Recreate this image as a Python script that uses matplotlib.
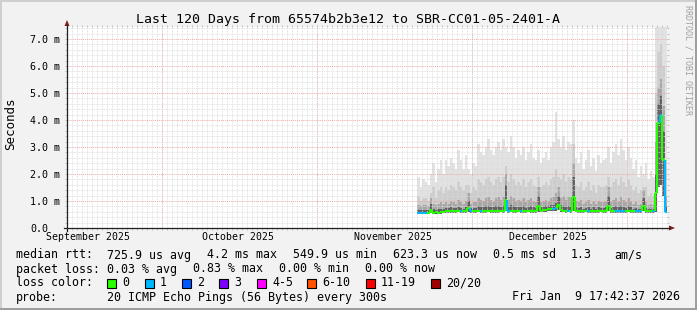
import numpy as np
import matplotlib
matplotlib.use("Agg")
import matplotlib.pyplot as plt
from matplotlib.patches import Rectangle, Polygon
from matplotlib.lines import Line2D
from matplotlib.ticker import MultipleLocator

W, H = 697, 310

TITLE = "Last 120 Days from 65574b2b3e12 to SBR-CC01-05-2401-A"
Y_LABEL = "Seconds"

# x axis runs in days since the start of the 120 day window
month_label_days = [4.2, 34.2, 65.2, 96.2]
month_labels = ["September 2025", "October 2025", "November 2025", "December 2025"]
month_start_days = [19.0, 50.0, 81.0, 112.0]

y_ticks = [0, 1, 2, 3, 4, 5, 6, 7]
y_tick_labels = ["0.0", "1.0 m", "2.0 m", "3.0 m", "4.0 m", "5.0 m", "6.0 m", "7.0 m"]

# half-day samples, first one starts at day 70
first_day = 70.0
step_days = 0.5

# median rtt (ms)
median = [
    0.56, 0.56, 0.57, 0.56, 0.57, 0.67, 0.57, 0.58, 0.57, 0.58, 0.60,
    0.62, 0.63, 0.63, 0.62, 0.63, 0.64, 0.63, 0.62, 0.63,
    0.75, 0.63, 0.62, 0.63,
    0.64, 0.63, 0.62, 0.63, 0.64, 0.63, 0.62, 0.63,
    0.63, 0.64, 0.63, 1.04,
    0.63, 0.64, 0.62, 0.63, 0.64, 0.63,
    0.62, 0.63, 0.64, 0.63, 0.62, 0.63, 0.80, 0.64,
    0.66, 0.68, 0.70, 0.72,
    0.70, 0.74, 0.85, 0.68, 0.64, 0.63, 0.64, 0.63,
    1.15,
    0.64, 0.63, 0.62, 0.63, 0.64, 0.63, 0.62, 0.63, 0.62, 0.63, 0.64, 0.63,
    0.62, 0.80, 0.63, 0.62, 0.63, 0.62, 0.63, 0.62, 0.63, 0.64, 0.63,
    0.62, 0.63, 0.62, 0.63, 0.80, 0.63, 0.62, 0.63, 0.62,
    1.30, 3.90, 4.20, 2.50, 0.60,
]

# smoke: max ping, ~90th, ~75th, ~60th percentile and min ping (ms)
smoke_top = [
    1.9, 1.5, 1.8, 1.7, 1.6, 2.0, 2.4, 1.7, 2.2, 2.5, 2.0,
    2.5, 2.3, 2.6, 2.4, 2.2, 2.9, 2.5, 2.2, 2.7,
    2.2, 2.0, 2.4, 2.3,
    3.1, 2.8, 2.7, 3.0, 3.3, 2.9, 2.7, 3.0,
    3.2, 2.9, 3.3, 3.0,
    2.8, 3.4, 3.0, 2.6, 2.9, 2.7,
    3.0, 2.5, 2.8, 3.1, 2.6, 2.5, 2.9, 2.4,
    2.6, 2.8, 2.5, 3.0,
    3.2, 4.3, 3.3, 3.0, 3.4, 2.9, 3.2, 3.1,
    4.0,
    2.6, 2.4, 2.8, 2.2, 2.5, 2.9, 2.3, 2.6, 2.1, 2.7, 2.4, 2.5,
    2.6, 3.0, 2.4, 2.8, 3.1, 2.7, 3.3, 2.9, 2.5, 3.0, 2.6,
    2.2, 2.5, 1.9, 2.3, 2.0, 2.4, 1.8, 2.1, 1.9,
    7.5, 7.5, 7.5, 7.5, 7.5,
]
smoke_p90 = [
    1.2, 1.0, 1.1, 1.1, 1.0, 1.3, 1.5, 1.1, 1.4, 1.5, 1.3,
    1.5, 1.4, 1.6, 1.5, 1.4, 1.7, 1.5, 1.4, 1.6,
    1.6, 1.3, 1.5, 1.4,
    1.8, 1.7, 1.6, 1.8, 1.9, 1.7, 1.6, 1.8,
    1.9, 1.7, 1.9, 2.3,
    1.7, 2.0, 1.8, 1.6, 1.7, 1.6,
    1.8, 1.5, 1.7, 1.8, 1.6, 1.5, 1.9, 1.5,
    1.6, 1.7, 1.6, 1.8,
    1.9, 2.2, 1.9, 1.8, 2.0, 1.7, 1.9, 1.8,
    3.1,
    1.6, 1.5, 1.7, 1.4, 1.5, 1.7, 1.4, 1.6, 1.3, 1.6, 1.5, 1.5,
    1.6, 1.9, 1.5, 1.7, 1.8, 1.6, 1.9, 1.7, 1.5, 1.8, 1.6,
    1.4, 1.5, 1.3, 1.4, 1.5, 1.5, 1.2, 1.3, 1.2,
    5.0, 6.5, 6.8, 6.0, 2.5,
]
smoke_p75 = [
    0.85, 0.80, 0.85, 0.85, 0.80, 1.10, 0.90, 0.85, 0.90, 0.95, 0.90,
    0.95, 0.90, 1.00, 0.95, 0.90, 1.05, 0.95, 0.90, 1.00,
    1.30, 0.90, 0.95, 0.95,
    1.10, 1.05, 1.00, 1.10, 1.15, 1.05, 1.00, 1.10,
    1.15, 1.05, 1.15, 2.00,
    1.05, 1.20, 1.10, 1.00, 1.05, 1.00,
    1.10, 0.95, 1.05, 1.10, 1.00, 0.95, 1.50, 0.95,
    1.00, 1.05, 1.00, 1.10,
    1.15, 1.30, 1.50, 1.10, 1.20, 1.05, 1.15, 1.10,
    2.40,
    1.00, 0.95, 1.05, 0.90, 0.95, 1.05, 0.90, 1.00, 0.90, 1.00, 0.95, 0.95,
    1.00, 1.50, 0.95, 1.05, 1.10, 1.00, 1.15, 1.05, 0.95, 1.10, 1.00,
    0.90, 0.95, 0.85, 0.90, 1.40, 0.95, 0.85, 0.90, 0.85,
    3.20, 5.20, 5.50, 4.50, 1.20,
]
smoke_p60 = [
    0.68, 0.66, 0.68, 0.67, 0.66, 0.90, 0.70, 0.68, 0.70, 0.72, 0.72,
    0.74, 0.73, 0.76, 0.74, 0.73, 0.78, 0.74, 0.72, 0.76,
    1.00, 0.73, 0.74, 0.74,
    0.80, 0.78, 0.76, 0.80, 0.82, 0.78, 0.76, 0.80,
    0.82, 0.78, 0.82, 1.60,
    0.78, 0.84, 0.80, 0.76, 0.78, 0.76,
    0.80, 0.74, 0.78, 0.80, 0.76, 0.74, 1.20, 0.76,
    0.78, 0.80, 0.80, 0.84,
    0.86, 0.92, 1.20, 0.84, 0.80, 0.76, 0.80, 0.78,
    1.90,
    0.76, 0.74, 0.78, 0.72, 0.74, 0.78, 0.72, 0.76, 0.72, 0.76, 0.74, 0.74,
    0.76, 1.20, 0.74, 0.78, 0.80, 0.76, 0.82, 0.78, 0.74, 0.80, 0.76,
    0.72, 0.74, 0.70, 0.72, 1.10, 0.74, 0.70, 0.72, 0.70,
    2.00, 4.60, 4.90, 3.60, 0.80,
]
smoke_min = [
    0.52, 0.52, 0.52, 0.52, 0.52, 0.54, 0.52, 0.53, 0.52, 0.53, 0.55,
    0.56, 0.57, 0.57, 0.56, 0.57, 0.58, 0.57, 0.56, 0.57,
    0.60, 0.57, 0.56, 0.57,
    0.58, 0.57, 0.56, 0.57, 0.58, 0.57, 0.56, 0.57,
    0.57, 0.58, 0.57, 0.62,
    0.57, 0.58, 0.56, 0.57, 0.58, 0.57,
    0.56, 0.57, 0.58, 0.57, 0.56, 0.57, 0.60, 0.58,
    0.59, 0.60, 0.62, 0.63,
    0.62, 0.64, 0.66, 0.60, 0.58, 0.57, 0.58, 0.57,
    0.64,
    0.58, 0.57, 0.56, 0.57, 0.58, 0.57, 0.56, 0.57, 0.56, 0.57, 0.58, 0.57,
    0.56, 0.62, 0.57, 0.56, 0.57, 0.56, 0.57, 0.56, 0.57, 0.58, 0.57,
    0.56, 0.57, 0.56, 0.57, 0.62, 0.57, 0.56, 0.57, 0.56,
    0.60, 1.50, 1.60, 1.20, 0.55,
]
# lost pings out of 20 per sample
loss = [
    1, 1, 1, 1, 0, 0, 0, 0, 0, 0, 0,
    0, 0, 0, 0, 0, 0, 1, 0, 0,
    0, 1, 0, 0,
    0, 1, 0, 0, 0, 0, 0, 0,
    0, 0, 0, 0,
    1, 0, 0, 0, 0, 1,
    0, 0, 0, 0, 0, 0, 0, 0,
    0, 0, 0, 0,
    1, 1, 0, 0, 0, 0, 1, 0,
    0,
    0, 0, 0, 0, 0, 1, 0, 0, 0, 0, 0, 0,
    0, 0, 0, 0, 1, 1, 1, 1, 0, 0, 0,
    0, 1, 1, 1, 0, 0, 0, 0, 1,
    0, 0, 1, 0, 1,
]

loss_legend = ["0", "1", "2", "3", "4-5", "6-10", "11-19", "20/20"]
loss_colors = ["#26ff00", "#00b8ff", "#0059ff", "#7e00ff", "#ff00ff", "#ff5500", "#ff0000", "#a10000"]
loss_upper = [0, 1, 2, 3, 5, 10, 19, 20]

rtt_stats = ["725.9 us avg", "4.2 ms max", "549.9 us min", "623.3 us now", "0.5 ms sd", "1.3", "am/s"]
loss_stats = ["0.03 % avg", "0.83 % max", "0.00 % min", "0.00 % now"]
probe_text = "20 ICMP Echo Pings (56 Bytes) every 300s"
stamp_text = "Fri Jan  9 17:42:37 2026"


def fx(px):
    return px / W


def fy(py):
    return 1 - py / H


def loss_color(n):
    for upper, col in zip(loss_upper, loss_colors):
        if n <= upper:
            return col
    return loss_colors[-1]


plt.rcParams['font.family'] = ['DejaVu Sans Mono']
MONO = 'DejaVu Sans Mono'

fig = plt.figure(figsize=(W / 100, H / 100), dpi=100, facecolor='#f2f2f2')
ax = fig.add_axes([fx(67), fy(228), 600 / W, 201 / H], facecolor='white')

edges = first_day + step_days * np.arange(len(median) + 1)
lo = np.array(smoke_min)

# smoke, outer band first
for vals, col in [(smoke_top, '#e2e2e2'), (smoke_p90, '#cdcdcd'),
                  (smoke_p75, '#a8a8a8'), (smoke_p60, '#626262')]:
    ax.stairs(vals, edges, baseline=lo, fill=True, color=col, lw=0, zorder=1)

# median line coloured by loss
med = np.array(median)
seg_cols = [loss_color(n) for n in loss]
ax.hlines(med, edges[:-1], edges[1:], colors=seg_cols, lw=1.5, zorder=3)
ax.vlines(edges[1:-1], med[:-1], med[1:], colors=seg_cols[1:], lw=1.5, zorder=3)

ax.set_xlim(0, 120)
ax.set_ylim(0, 7.444)

# grid, drawn over the data like rrdtool does
dots = (0, (1, 1))
ax.xaxis.set_minor_locator(MultipleLocator(1))
ax.yaxis.set_minor_locator(MultipleLocator(0.2))
ax.set_xticks(month_label_days, month_labels)
ax.set_yticks(y_ticks, y_tick_labels)
ax.grid(which='minor', color='#dadada', lw=0.6, ls=dots)
ax.grid(which='major', axis='y', color='#eeaaaa', lw=0.7, ls=dots)
ax.grid(which='major', axis='x', visible=False)
for d in month_start_days:
    ax.axvline(d, color='#eeaaaa', lw=0.7, ls=dots, zorder=2.5)
ax.set_axisbelow(False)

for s in ax.spines.values():
    s.set_visible(False)

ax.tick_params(which='both', direction='out', top=True, right=True,
               color='#b8b8b8', width=0.6)
ax.tick_params(which='minor', length=1.44)
ax.tick_params(axis='y', which='major', length=1.44, pad=25.2, labelsize=7.2)
ax.tick_params(axis='x', which='major', length=0, pad=3.2, labelsize=7.1)
for lab in ax.get_yticklabels():
    lab.set_horizontalalignment('left')

# axis lines with arrows
axis_col = '#1f1f1f'
arrow_col = '#801f1f'
fig.add_artist(Line2D([fx(64), fx(670)], [fy(228), fy(228)], color=axis_col, lw=0.9))
fig.add_artist(Line2D([fx(67), fx(67)], [fy(231), fy(25)], color=axis_col, lw=0.9))
fig.add_artist(Polygon([(fx(669), fy(225.5)), (fx(675), fy(228)), (fx(669), fy(230.5))],
                       closed=True, color=arrow_col, lw=0))
fig.add_artist(Polygon([(fx(64.5), fy(26)), (fx(67), fy(20)), (fx(69.5), fy(26))],
                       closed=True, color=arrow_col, lw=0))

# frame shading
fig.add_artist(Rectangle((0, fy(2)), 1, 2 / H, color='#cfcfcf', lw=0))
fig.add_artist(Rectangle((0, 0), 2 / W, 1, color='#cfcfcf', lw=0))
fig.add_artist(Rectangle((0, 0), 1, 2 / H, color='#9e9e9e', lw=0))
fig.add_artist(Rectangle((1 - 2 / W, 0), 2 / W, 1, color='#9e9e9e', lw=0))

# titles
fig.text(fx(348), fy(19), TITLE, ha='center', va='center', size=9.5, family=MONO)
fig.text(fx(11), fy(124), Y_LABEL, ha='center', va='center', size=9, rotation=90, family=MONO)
fig.text(fx(688), fy(60), "RRDTOOL / TOBI OETIKER", ha='center', va='center',
         size=6, rotation=-90, color='#a0a0a0', family=MONO)

# legend
LS = 8.4
y1, y2, y3, y4 = 255, 269, 283, 297
fig.text(fx(16), fy(y1), "median rtt:", va='center', size=LS, family=MONO)
for txt, px in zip(rtt_stats, [107, 207, 293, 393, 493, 571, 614]):
    fig.text(fx(px), fy(y1), txt, va='center', size=LS, family=MONO)

fig.text(fx(16), fy(y2), "packet loss:", va='center', size=LS, family=MONO)
for txt, px in zip(loss_stats, [107, 193, 279, 365]):
    fig.text(fx(px), fy(y2), txt, va='center', size=LS, family=MONO)

fig.text(fx(16), fy(y3), "loss color:", va='center', size=LS, family=MONO)
box = 9
for txt, col, px in zip(loss_legend, loss_colors, [107, 145, 182, 219, 257, 307, 366, 431]):
    fig.add_artist(Rectangle((fx(px), fy(y3 + box / 2)), box / W, box / H,
                             facecolor=col, edgecolor='black', lw=0.8))
    fig.text(fx(px + 15), fy(y3), txt, va='center', size=LS, family=MONO)

fig.text(fx(16), fy(y4), "probe:", va='center', size=LS, family=MONO)
fig.text(fx(107), fy(y4), probe_text, va='center', size=LS, family=MONO)
fig.text(fx(680), fy(y4), stamp_text, va='center', ha='right', size=LS, family=MONO)

fig.savefig('out.png', dpi=100, facecolor=fig.get_facecolor())
